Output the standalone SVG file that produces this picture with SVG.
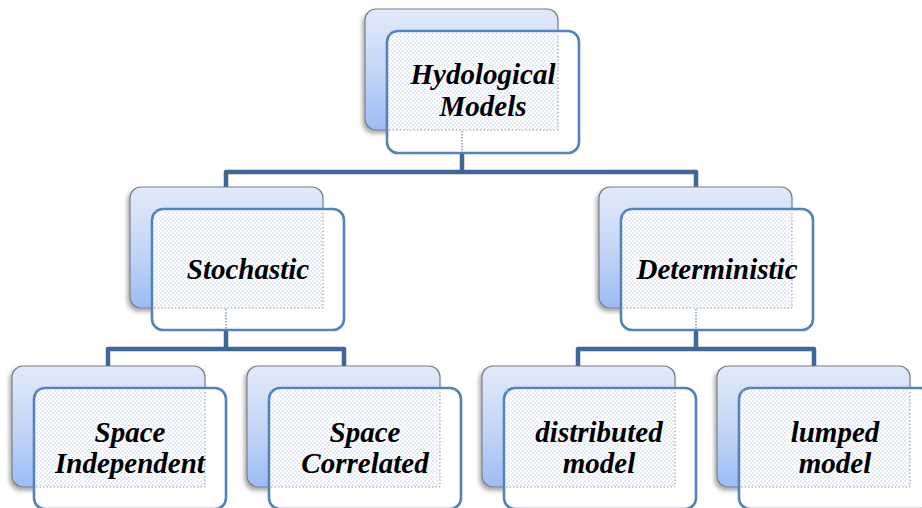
<svg xmlns="http://www.w3.org/2000/svg" width="922" height="508" viewBox="0 0 922 508">
<defs>
<linearGradient id="bg" x1="0" y1="0" x2="0" y2="1">
<stop offset="0" stop-color="#e1eafa"/>
<stop offset="0.5" stop-color="#c5d7f6"/>
<stop offset="1" stop-color="#9cbcf4"/>
</linearGradient>
<pattern id="dots" width="4" height="4" patternUnits="userSpaceOnUse">
<rect x="0.5" y="0.5" width="1.2" height="1.2" fill="#a9c2ee"/>
<rect x="2.5" y="2.5" width="1.2" height="1.2" fill="#bcd0f2"/>
</pattern>
<filter id="sh" x="-10%" y="-10%" width="120%" height="125%">
<feDropShadow dx="-2" dy="3" stdDeviation="2" flood-color="#000" flood-opacity="0.35"/>
</filter>
</defs>
<style>
.back{fill:url(#bg);stroke:#7a7f86;stroke-width:1.2;filter:url(#sh)}
.front{fill:#fff;stroke:#5482bf;stroke-width:2.6}
.dots{fill:url(#dots)}
.dl{fill:none;stroke:#9a9a9a;stroke-width:1;stroke-dasharray:1.5 2}
.dv{fill:none;stroke:#5a7fb0;stroke-width:1.2;stroke-dasharray:1.5 1.5}
.conn{fill:none;stroke:#3e6697;stroke-width:4.5;stroke-linejoin:round}
.t{font-weight:bold;font-style:italic;font-size:29px;fill:#000;text-anchor:middle}
</style>

<g id="connectors">
<path class="conn" d="M462,153 V172"/>
<path class="conn" d="M226,187 V172 H696 V187"/>
<path class="conn" d="M226,330 V349"/>
<path class="conn" d="M108,366 V349 H344 V366"/>
<path class="conn" d="M696,330 V349"/>
<path class="conn" d="M578,366 V349 H814 V366"/>
</g>

<g font-family="'Liberation Serif', 'Times New Roman', Times, serif">
<g id="hydrological">
<rect class="back" x="365" y="9" width="193" height="121" rx="11"/>
<rect class="front" x="387" y="31" width="192" height="122" rx="11"/>
<rect class="dots" x="389" y="33" width="169" height="97"/>
<path class="dl" d="M389,130 H558 V33"/>
<path class="dv" d="M462,131 V152"/>
<text class="t" x="483" y="84">Hydological</text>
<text class="t" x="483" y="116">Models</text>
</g>

<g id="stochastic">
<rect class="back" x="130" y="187" width="193" height="121" rx="11"/>
<rect class="front" x="152" y="209" width="192" height="121" rx="11"/>
<rect class="dots" x="154" y="211" width="169" height="97"/>
<path class="dl" d="M154,308 H323 V211"/>
<path class="dv" d="M226,309 V329"/>
<text class="t" x="248" y="279">Stochastic</text>
</g>

<g id="deterministic">
<rect class="back" x="599" y="187" width="193" height="121" rx="11"/>
<rect class="front" x="621" y="209" width="192" height="121" rx="11"/>
<rect class="dots" x="623" y="211" width="169" height="97"/>
<path class="dl" d="M623,308 H792 V211"/>
<path class="dv" d="M696,309 V329"/>
<text class="t" x="717" y="279">Deterministic</text>
</g>

<g id="space-independent">
<rect class="back" x="12" y="366" width="193" height="121" rx="11"/>
<rect class="front" x="34" y="388" width="192" height="121" rx="11"/>
<rect class="dots" x="36" y="390" width="169" height="97"/>
<path class="dl" d="M36,487 H205 V390"/>
<text class="t" x="130" y="442">Space</text>
<text class="t" x="130" y="473">Independent</text>
</g>

<g id="space-correlated">
<rect class="back" x="247" y="366" width="193" height="121" rx="11"/>
<rect class="front" x="269" y="388" width="192" height="121" rx="11"/>
<rect class="dots" x="271" y="390" width="169" height="97"/>
<path class="dl" d="M271,487 H440 V390"/>
<text class="t" x="365" y="442">Space</text>
<text class="t" x="365" y="473">Correlated</text>
</g>

<g id="distributed-model">
<rect class="back" x="482" y="366" width="193" height="121" rx="11"/>
<rect class="front" x="504" y="388" width="192" height="121" rx="11"/>
<rect class="dots" x="506" y="390" width="169" height="97"/>
<path class="dl" d="M506,487 H675 V390"/>
<text class="t" x="599" y="442">distributed</text>
<text class="t" x="599" y="473">model</text>
</g>

<g id="lumped-model">
<rect class="back" x="717" y="366" width="193" height="121" rx="11"/>
<rect class="front" x="739" y="388" width="192" height="121" rx="11"/>
<rect class="dots" x="741" y="390" width="169" height="97"/>
<path class="dl" d="M741,487 H910 V390"/>
<text class="t" x="835" y="442">lumped</text>
<text class="t" x="835" y="473">model</text>
</g>
</g>
</svg>
